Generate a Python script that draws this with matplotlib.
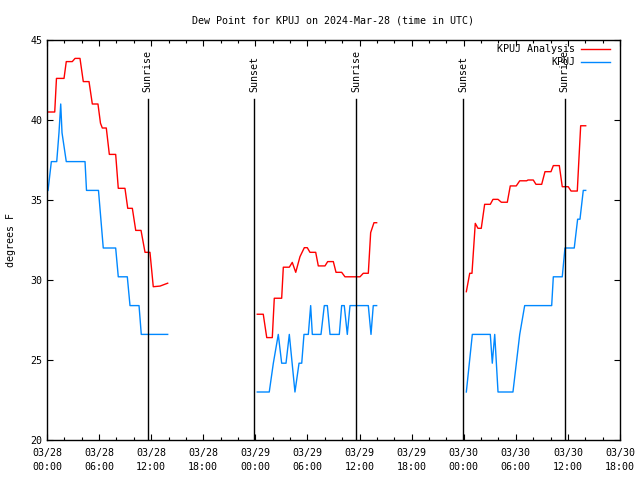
"""
Dew point plot for KPUJ: hourly analysis vs station obs, with sunrise/sunset marks.
"""

import matplotlib
import matplotlib.pyplot as plt
import numpy as np

matplotlib.rcParams["font.family"] = "DejaVu Sans Mono"
matplotlib.rcParams["font.size"] = 7.2

NAN = np.nan

# hours since 2024-03-28 00:00 UTC, NaN marks a data gap
analysis_hours = [
    0.12, 0.89, 1.09, 1.96, 2.22, 2.91, 3.23, 3.80, 4.18, 4.84, 5.22, 5.87,
    6.16, 6.37, 6.83, 7.18, 7.91, 8.21, 8.98, 9.30, 9.83, 10.22, 10.83,
    11.29, 11.86, 12.24, 13.02, 13.90, NAN,
    24.22, 24.91, 25.31, 25.95, 26.18, 27.03, 27.22, 27.91, 28.25, 28.65,
    29.14, 29.64, 29.98, 30.29, 30.95, 31.25, 32.02, 32.33, 32.98, 33.29,
    33.94, 34.32, 36.05, 36.43, 37.01, 37.28, 37.66, 37.97, NAN,
    48.30, 48.69, 48.95, 49.33, 49.64, 50.02, 50.41, 51.06, 51.37, 51.95,
    52.33, 53.02, 53.36, 54.05, 54.45, 55.25, 55.40, 56.01, 56.32, 56.98,
    57.36, 58.05, 58.32, 59.01, 59.35, 60.04, 60.36, 61.08, 61.28, 61.47,
    62.05,
]
analysis_dewpt = [
    40.5, 40.5, 42.6, 42.6, 43.65, 43.65, 43.85, 43.85, 42.4, 42.4, 41.0, 41.0,
    39.8, 39.5, 39.5, 37.85, 37.85, 35.73, 35.73, 34.48, 34.48, 33.1, 33.1,
    31.73, 31.73, 29.58, 29.62, 29.8, NAN,
    27.86, 27.86, 26.4, 26.4, 28.86, 28.86, 30.8, 30.8, 31.1, 30.48,
    31.46, 32.02, 32.02, 31.73, 31.73, 30.88, 30.88, 31.15, 31.15, 30.48,
    30.48, 30.2, 30.2, 30.42, 30.42, 32.96, 33.58, 33.58, NAN,
    29.27, 30.42, 30.42, 33.54, 33.23, 33.23, 34.73, 34.73, 35.04, 35.04,
    34.86, 34.86, 35.88, 35.88, 36.2, 36.2, 36.25, 36.25, 35.98, 35.98,
    36.77, 36.77, 37.15, 37.15, 35.83, 35.83, 35.56, 35.56, 37.67, 39.64,
    39.64,
]

obs_hours = [
    0.12, 0.50, 1.12, 1.38, 1.58, 1.73, 2.22, 4.38, 4.55, 5.93, 6.48, 7.91,
    8.21, 9.25, 9.56, 10.60, 10.86, 13.90, NAN,
    24.22, 25.60, 26.07, 26.64, 27.03, 27.53, 27.91, 28.56, 29.03, 29.34,
    29.60, 30.10, 30.37, 30.56, 31.56, 31.94, 32.29, 32.60, 33.67, 33.94,
    34.24, 34.59, 34.90, 37.01, 37.32, 37.58, 37.97, NAN,
    48.30, 48.99, 51.06, 51.29, 51.57, 51.95, 53.67, 54.45, 55.02, 58.13,
    58.32, 59.35, 59.66, 60.73, 61.12, 61.39, 61.77, 62.05,
]
obs_dewpt = [
    35.6, 37.4, 37.4, 39.2, 41.0, 39.2, 37.4, 37.4, 35.6, 35.6, 32.0, 32.0,
    30.2, 30.2, 28.4, 28.4, 26.6, 26.6, NAN,
    23.0, 23.0, 24.8, 26.6, 24.8, 24.8, 26.6, 23.0, 24.8, 24.8,
    26.6, 26.6, 28.4, 26.6, 26.6, 28.4, 28.4, 26.6, 26.6, 28.4,
    28.4, 26.6, 28.4, 28.4, 26.6, 28.4, 28.4, NAN,
    23.0, 26.6, 26.6, 24.8, 26.6, 23.0, 23.0, 26.6, 28.4, 28.4,
    30.2, 30.2, 32.0, 32.0, 33.8, 33.8, 35.6, 35.6,
]

sunrise_hours = [11.6, 35.6, 59.65]
sunset_hours = [23.9, 47.95]

tick_hours = list(range(0, 67, 6))
tick_labels = [
    "03/28\n00:00", "03/28\n06:00", "03/28\n12:00", "03/28\n18:00",
    "03/29\n00:00", "03/29\n06:00", "03/29\n12:00", "03/29\n18:00",
    "03/30\n00:00", "03/30\n06:00", "03/30\n12:00", "03/30\n18:00",
]

RED = "#ff0000"
BLUE = "#0088ff"

fig = plt.figure(figsize=(6.4, 4.8), dpi=100)
ax = fig.add_axes([47 / 640, 40 / 480, 573 / 640, 400 / 480])

ax.plot(analysis_hours, analysis_dewpt, color=RED, linewidth=1.0)
ax.plot(obs_hours, obs_dewpt, color=BLUE, linewidth=1.0)

# sunrise / sunset markers
line_top = (440 - 99) / 400
text_y = (440 - 92) / 400
for label, hours in (("Sunrise", sunrise_hours), ("Sunset", sunset_hours)):
    for h in hours:
        ax.axvline(h, ymin=0, ymax=line_top, color="black", linewidth=1.0)
        ax.text(h, text_y, label, rotation=90, ha="center", va="bottom",
                transform=ax.get_xaxis_transform(), fontsize=7.2)

ax.set_xlim(0, 66)
ax.set_ylim(20, 45)
ax.set_xticks(tick_hours)
ax.set_xticklabels(tick_labels, linespacing=1.45)
ax.set_xticks(np.arange(0, 67, 2), minor=True)
ax.set_yticks(np.arange(20, 46, 5))
ax.tick_params(axis="both", which="both", direction="in", top=True,
               right=True, labelsize=7.2, width=0.8)
ax.tick_params(axis="both", which="major", length=4)
ax.tick_params(axis="both", which="minor", length=2)
ax.tick_params(axis="x", pad=6)
for spine in ax.spines.values():
    spine.set_linewidth(1.0)

ax.set_title("Dew Point for KPUJ on 2024-Mar-28 (time in UTC)",
             fontsize=7.2, pad=12)
ax.set_ylabel("degrees F", fontsize=7.2, labelpad=10)

# gnuplot-style key, right aligned text then line sample
key_rows = [("KPUJ Analysis", RED), ("KPUJ", BLUE)]
for i, (name, color) in enumerate(key_rows):
    y = (440 - 49 - 13 * i) / 400
    ax.text((575 - 47) / 573, y, name, ha="right", va="center",
            transform=ax.transAxes, fontsize=7.2)
    ax.plot([(581 - 47) / 573, (610 - 47) / 573], [y, y], color=color,
            linewidth=1.0, transform=ax.transAxes, clip_on=False)

fig.savefig("out.png", dpi=100)
